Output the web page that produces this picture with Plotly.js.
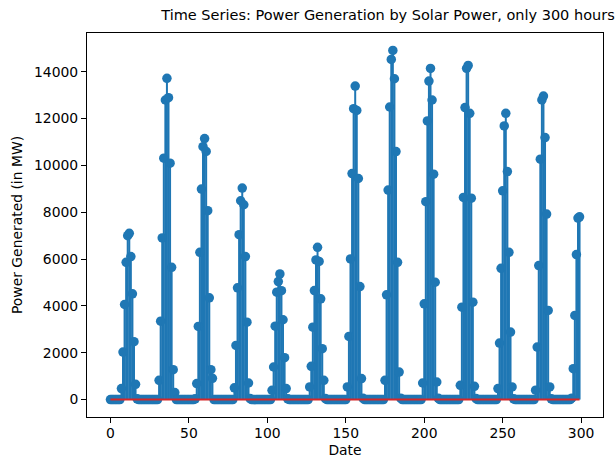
<!DOCTYPE html>
<html>
<head>
<meta charset="utf-8">
<script src="https://cdn.plot.ly/plotly-3.0.1.min.js"></script>
<style>html,body{margin:0;padding:0;background:#fff;}#chart{width:615px;height:461px;}</style>
</head>
<body>
<div id="chart"></div>
<script>
// Hourly solar generation (MW), 300 hours, one row per day (24 h)
const day0  = [0,0,0,0,0,0,0,469,2028,4060,5863,7000,7100,6106,4516,2471,652,30,0,0,0,0,0,0];
const day1  = [0,0,0,0,0,0,0,822,3349,6902,10311,12795,13720,12893,10098,5650,1278,300,0,0,0,0,0,0];
const day2  = [0,0,0,0,0,0,30,682,3123,6289,8990,10800,11150,10600,8066,4346,1278,908,0,0,0,0,0,0];
const day3  = [0,0,0,0,0,0,0,500,2313,4772,7043,8492,9033,8321,6106,3306,707,40,0,0,0,0,0,0];
const day4  = [0,0,0,0,0,0,0,396,1390,3136,4585,5040,5368,4650,3408,1790,469,30,0,0,0,0,0,0];
const day5  = [0,0,0,0,0,0,0,537,1419,3093,4657,5965,6502,5900,4303,2173,822,40,0,0,0,0,0,0];
const day6  = [0,0,0,0,0,0,0,537,2697,6008,9655,12424,13392,12350,9442,4827,895,50,0,0,0,0,0,0];
const day7  = [0,0,0,0,0,0,0,822,4474,8948,12497,14529,14912,13703,10592,5863,1176,60,0,0,0,0,0,0];
const day8  = [0,0,0,0,0,0,0,707,4090,8450,11900,13605,14146,12795,9629,5011,750,50,0,0,0,0,0,0];
const day9  = [0,0,0,0,0,0,0,609,3947,8634,12470,14150,14273,12228,8600,4160,567,40,0,0,0,0,0,0];
const day10 = [0,0,0,0,0,0,0,469,2412,5607,8918,11687,12228,9740,6289,2880,537,30,0,0,0,0,0,0];
const day11 = [0,0,0,0,0,0,0,400,2241,5722,10268,12800,12965,11189,7925,3805,537,30,0,0,0,0,0,0];
const day12 = [0,0,0,0,0,0,60,1320,3592,6192,7750,7806];

const power = [].concat(day0,day1,day2,day3,day4,day5,day6,day7,day8,day9,day10,day11,day12);
const hours = power.map((_, i) => i);

const xTicks = [0, 50, 100, 150, 200, 250, 300];
const yTicks = [0, 2000, 4000, 6000, 8000, 10000, 12000, 14000];

const blue = '#1f77b4';
const red = '#d62728';

// stems
const sx = [], sy = [];
hours.forEach((h, i) => { sx.push(h, h, null); sy.push(0, power[i], null); });

const stems = {x: sx, y: sy, type: 'scatter', mode: 'lines',
  line: {color: blue, width: 2}, hoverinfo: 'skip', showlegend: false};
const heads = {x: hours, y: power, type: 'scatter', mode: 'markers',
  marker: {color: blue, size: 9.5, line: {width: 0}}, showlegend: false};
const base = {x: [hours[0], hours[hours.length - 1]], y: [0, 0], type: 'scatter', mode: 'lines',
  line: {color: red, width: 2}, showlegend: false, hoverinfo: 'skip'};

const maxV = Math.max(...power);
const pad = 0.05 * maxV;
const xpad = 0.05 * (hours[hours.length - 1] - hours[0]);

const font = {family: 'DejaVu Sans, sans-serif', size: 13.9, color: '#000'};

const layout = {
  width: 615, height: 461,
  margin: {l: 87, r: 12, t: 33, b: 44, pad: 0},
  paper_bgcolor: '#fff', plot_bgcolor: '#fff',
  font: font,
  title: {text: 'Time Series: Power Generation by Solar Power, only 300 hours',
    font: {family: 'DejaVu Sans, sans-serif', size: 14.5, color: '#000'},
    x: 388 / 615, xanchor: 'center', xref: 'container', yref: 'container', y: 1 - 15 / 461, yanchor: 'middle'},
  xaxis: {
    range: [hours[0] - xpad, hours[hours.length - 1] + xpad],
    tickvals: xTicks, ticktext: xTicks.map(String),
    ticks: 'outside', ticklen: 5, tickwidth: 1, tickcolor: '#000',
    ticklabelstandoff: -2,
    showline: true, mirror: true, linecolor: '#000', linewidth: 1,
    showgrid: false, zeroline: false,
    tickfont: font,
    title: {text: 'Date', font: font, standoff: 5}
  },
  yaxis: {
    range: [-pad, maxV + pad],
    tickvals: yTicks, ticktext: yTicks.map(String),
    ticks: 'outside', ticklen: 5, tickwidth: 1, tickcolor: '#000',
    showline: true, mirror: true, linecolor: '#000', linewidth: 1,
    showgrid: false, zeroline: false,
    tickfont: font,
    title: {text: 'Power Generated (in MW)', font: font, standoff: 8}
  },
  showlegend: false
};

Plotly.newPlot('chart', [stems, heads, base], layout, {displayModeBar: false, staticPlot: true});
</script>
</body>
</html>
